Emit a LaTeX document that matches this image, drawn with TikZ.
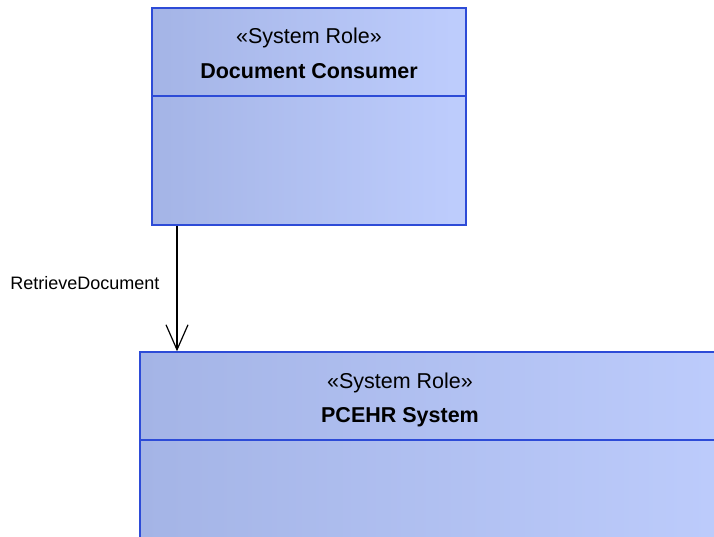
\documentclass[tikz,border=0pt]{standalone}
\usepackage{fontspec}
\setmainfont{Liberation Sans}
\usetikzlibrary{arrows.meta}

\definecolor{roleline}{RGB}{45,75,215}
\definecolor{roledark}{RGB}{164,180,230}
\definecolor{rolelight}{RGB}{190,205,253}

\tikzset{
	rolebox/.style={draw=roleline, line width=1.5pt, rectangle,
		left color=roledark, right color=rolelight, inner sep=0pt},
	stereo/.style={font=\fontsize{21.5}{24}\selectfont},
	rolename/.style={font=\fontsize{21.5}{24}\selectfont\bfseries},
	msg/.style={font=\fontsize{18}{21}\selectfont}
}

\begin{document}
\begin{tikzpicture}[x=1pt,y=-1pt]

	\useasboundingbox (0,0) rectangle (714,537);
	\clip (0,0) rectangle (714,537);

	% system roles
	\node[rolebox, minimum width=314pt, minimum height=217pt] (consumer) at (309,116.5) {};
	\node[rolebox, minimum width=620pt, minimum height=230pt] (pcehr) at (450,467) {};

	\node[stereo] (st1) at (309,38) {«System Role»};
	\node[rolename] (nm1) at (309,71) {Document Consumer};
	\node[stereo] (st2) at (400,383) {«System Role»};
	\node[rolename] (nm2) at (400,417) {PCEHR System};

	% compartments
	\coordinate (d1) at (152,96);
	\coordinate (d2) at (140,440);
	\foreach \d / \n in {d1/consumer, d2/pcehr}
	{
		\draw[roleline, line width=1.5pt] (\n.west |- \d) -- (\n.east |- \d);
	};

	% message
	\coordinate (a1) at (177,0);
	\draw[line width=1.2pt, -{Straight Barb[length=25pt,width=22pt,line width=1.2pt]}]
		(consumer.south -| a1) -- (pcehr.north -| a1);
	\node[msg, anchor=east] (retrieve) at (163,283) {RetrieveDocument};

\end{tikzpicture}
\end{document}
